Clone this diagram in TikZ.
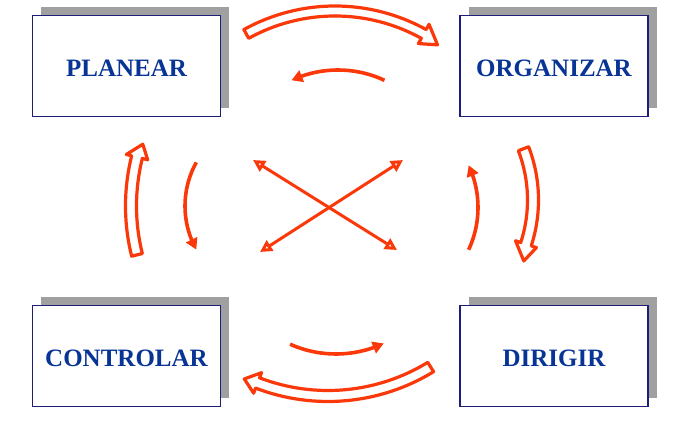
\documentclass[tikz,border=0pt]{standalone}
\usepackage{fontspec}
\setmainfont{Liberation Serif}
\usetikzlibrary{arrows.meta,bending,shadows}
\definecolor{arr}{RGB}{250,56,10}
\definecolor{navy}{RGB}{8,52,150}
\definecolor{bord}{RGB}{30,30,120}
\definecolor{shad}{RGB}{160,160,160}
% #1 centre, #2 radius, #3 tail angle, #4 head-base angle, #5 half shaft, #6 half head, #7 tip angle, #8 tip radius
\newcommand{\hollowarc}[8]{%
  \pgfmathsetmacro{\hwRo}{#2+#5}\pgfmathsetmacro{\hwRi}{#2-#5}%
  \pgfmathsetmacro{\hwHo}{#2+#6}\pgfmathsetmacro{\hwHi}{#2-#6}%
  \draw[hollow] ([shift={(#3:\hwRo)}]#1) arc[start angle=#3,end angle=#4,radius=\hwRo]
    -- ([shift={(#4:\hwHo)}]#1) -- ([shift={(#7:#8)}]#1) -- ([shift={(#4:\hwHi)}]#1)
    -- ([shift={(#4:\hwRi)}]#1) arc[start angle=#4,end angle=#3,radius=\hwRi] -- cycle;}
\begin{document}
\begin{tikzpicture}[x=1pt,y=1pt,
  box/.style={draw=bord, line width=1.2pt, fill=white, minimum width=188pt, minimum height=101pt,
    font=\fontsize{25}{30}\selectfont\bfseries, text=navy, text height=21pt, text depth=0pt,
    general shadow={fill=shad, shadow xshift=8.5pt, shadow yshift=8.5pt}},
  hollow/.style={draw=arr, line width=3.2pt, fill=white, line join=round},
  smallarr/.style={draw=arr, line width=3.6pt, -{Triangle[length=11pt,width=12pt,flex]}},
  crossarr/.style={draw=arr, line width=3pt,
    {Triangle[open,length=12pt,width=12pt]}-{Triangle[open,length=12pt,width=12pt]}}]
\useasboundingbox (0,0) rectangle (679,428);
% boxes
\node[box] (plan) at (126.5,362) {PLANEAR};
\node[box] (org) at (554,362) {ORGANIZAR};
\node[box] (ctrl) at (126.5,72) {CONTROLAR};
\node[box] (dir) at (554,72) {DIRIGIR};
% centres of the arcs
\coordinate (ctop) at (335,234);
\coordinate (cleft) at (333,222);
\coordinate (cright) at (390,228);
\coordinate (cbot) at (328,228.5);
\coordinate (sctop) at (338,248);
\coordinate (scleft) at (275,222);
\coordinate (scright) at (378,220.5);
\coordinate (scbot) at (336,187);
% outer hollow arrows (clockwise)
\hollowarc{ctop}{183}{119}{61}{5}{11}{55.5}{181}
\hollowarc{cright}{143}{21}{-18}{5.5}{11}{-24.5}{147}
\hollowarc{cbot}{196.5}{301.5}{249}{5.5}{11}{245}{198}
\hollowarc{cleft}{202}{194}{166}{5.5}{11}{162}{200}
% inner thin arrows (counter-clockwise)
\draw[smallarr] ([shift={(65:110)}]sctop) arc[start angle=65,end angle=115,radius=110];
\draw[smallarr] ([shift={(151:90)}]scleft) arc[start angle=151,end angle=209,radius=90];
\draw[smallarr] ([shift={(246:113)}]scbot) arc[start angle=246,end angle=295,radius=113];
\draw[smallarr] ([shift={(-25:100)}]scright) arc[start angle=-25,end angle=25,radius=100];
% cross
\coordinate (xa1) at (253,268);
\coordinate (xa2) at (397,178);
\coordinate (xb1) at (403,268);
\coordinate (xb2) at (260,176);
\draw[crossarr] (xa1) -- (xa2);
\draw[crossarr] (xb1) -- (xb2);
\end{tikzpicture}
\end{document}
